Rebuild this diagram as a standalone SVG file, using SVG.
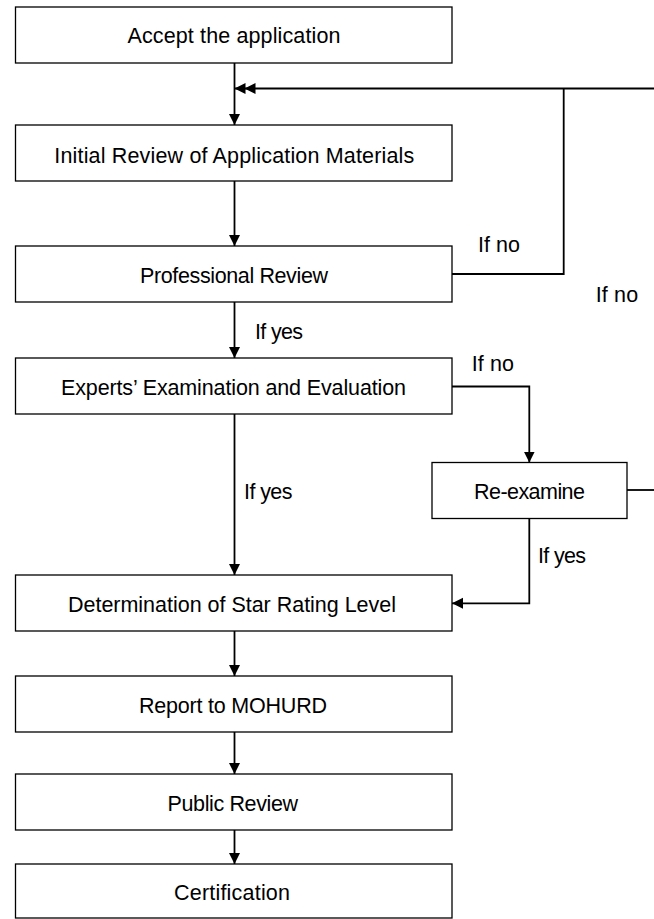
<svg xmlns="http://www.w3.org/2000/svg" width="654" height="919" viewBox="0 0 654 919">
<style>
.box{fill:#fff;stroke:#000;stroke-width:1.3}
.t{font-family:"Liberation Sans",Arial,sans-serif;font-size:21.5px;fill:#000;text-anchor:middle}
.l{font-family:"Liberation Sans",Arial,sans-serif;font-size:21.5px;fill:#000}
.c{fill:none;stroke:#000;stroke-width:1.8}
.a{marker-end:url(#arr)}
</style>
<defs>
<marker id="arr" markerUnits="userSpaceOnUse" markerWidth="12" markerHeight="12" refX="11" refY="5.5" orient="auto">
<path d="M0,0 L11,5.5 L0,11 z" fill="#000"/>
</marker>
<marker id="arr2" markerUnits="userSpaceOnUse" markerWidth="22" markerHeight="12" refX="21" refY="5.5" orient="auto">
<path d="M0,0 L11,5.5 L0,11 z M10,0 L21,5.5 L10,11 z" fill="#000"/>
</marker>
</defs>
<rect width="654" height="919" fill="#fff"/>
<g id="connectors">
<path class="c a" d="M234.5,63 V125"/>
<path class="c" d="M654,88.5 H234.5" marker-end="url(#arr2)"/>
<path class="c a" d="M234.5,181 V246"/>
<path class="c" d="M452,274 H563.7 V88.5"/>
<path class="c a" d="M234.5,302 V358"/>
<path class="c a" d="M234.5,414 V575"/>
<path class="c a" d="M452,386.5 H529.3 V462.5"/>
<path class="c" d="M627,490 H654"/>
<path class="c a" d="M529.3,518.5 V603.3 H452"/>
<path class="c a" d="M234.5,631 V676"/>
<path class="c a" d="M234.5,732 V774"/>
<path class="c a" d="M234.5,830 V864"/>
<text class="l" x="478" y="252.3" textLength="42" lengthAdjust="spacing">If no</text>
<text class="l" x="595.7" y="302.3" textLength="42.5" lengthAdjust="spacing">If no</text>
<text class="l" x="255" y="339.3" textLength="48" lengthAdjust="spacing">If yes</text>
<text class="l" x="471.7" y="370.7" textLength="42.3" lengthAdjust="spacing">If no</text>
<text class="l" x="244" y="499" textLength="48.5" lengthAdjust="spacing">If yes</text>
<text class="l" x="538" y="562.7" textLength="48" lengthAdjust="spacing">If yes</text>
</g>
<g id="n1"><rect class="box" x="15.5" y="7" width="436.5" height="56"/><text class="t" x="234" y="43.3" textLength="213" lengthAdjust="spacing">Accept the application</text></g>
<g id="n2"><rect class="box" x="15.5" y="125" width="436.5" height="56"/><text class="t" x="234.3" y="163" textLength="360" lengthAdjust="spacing">Initial Review of Application Materials</text></g>
<g id="n3"><rect class="box" x="15.5" y="246" width="436.5" height="56"/><text class="t" x="234" y="283" textLength="188" lengthAdjust="spacing">Professional Review</text></g>
<g id="n4"><rect class="box" x="15.5" y="358" width="436.5" height="56"/><text class="t" x="233.5" y="395" textLength="345" lengthAdjust="spacing">Experts’ Examination and Evaluation</text></g>
<g id="n5"><rect class="box" x="432" y="462.5" width="195" height="56"/><text class="t" x="529.5" y="499" textLength="111" lengthAdjust="spacing">Re-examine</text></g>
<g id="n6"><rect class="box" x="15.5" y="575" width="436.5" height="56"/><text class="t" x="232" y="612" textLength="328" lengthAdjust="spacing">Determination of Star Rating Level</text></g>
<g id="n7"><rect class="box" x="15.5" y="676" width="436.5" height="56"/><text class="t" x="233" y="713" textLength="188" lengthAdjust="spacing">Report to MOHURD</text></g>
<g id="n8"><rect class="box" x="15.5" y="774" width="436.5" height="56"/><text class="t" x="232.8" y="811" textLength="130.5" lengthAdjust="spacing">Public Review</text></g>
<g id="n9"><rect class="box" x="15.5" y="864" width="436.5" height="54"/><text class="t" x="232" y="900" textLength="116" lengthAdjust="spacing">Certification</text></g>
</svg>
